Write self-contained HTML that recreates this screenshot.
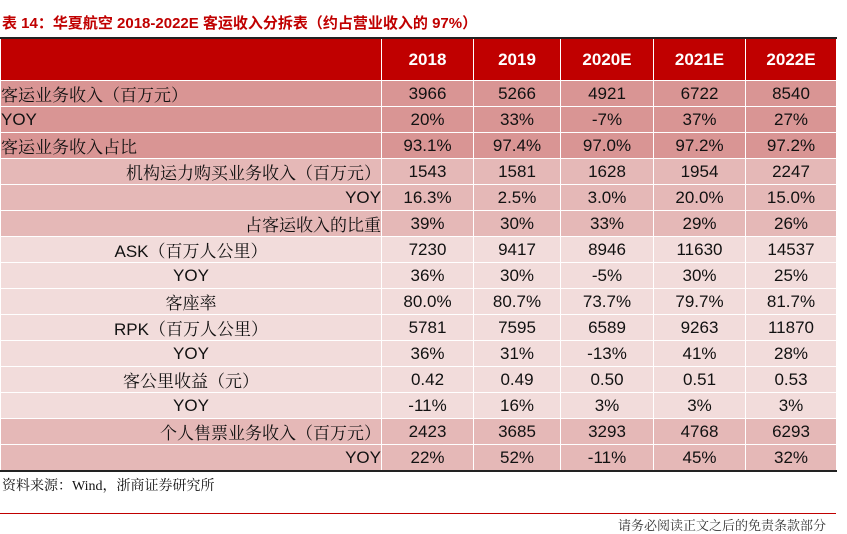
<!DOCTYPE html>
<html><head><meta charset="utf-8">
<style>
body{margin:0;width:847px;height:522px;background:#fff;position:relative;overflow:hidden;font-family:"Liberation Sans","Noto Sans CJK SC",sans-serif}
.title{position:absolute;left:2px;top:12px;font-size:15px;font-weight:bold;color:#C00000;font-family:"Liberation Sans","Noto Sans CJK SC",sans-serif;white-space:nowrap}
table{position:absolute;left:0;top:37px;border-collapse:collapse;table-layout:fixed;border-top:2px solid #222;border-bottom:2px solid #222}
td,th{border:1px solid #fff;height:25px;padding:0;font-size:17px;color:#111;text-align:center;white-space:nowrap;overflow:hidden}
th{background:#C00000;color:#fff;height:41px;font-size:17px}
.cn{font-family:"Liberation Sans","Noto Serif CJK SC",serif}
.l{text-align:left}.r{text-align:right}
.a td{background:#D99594}.b td{background:#E5B8B7}.c td{background:#F2DCDB}
.src{position:absolute;left:2px;top:475px;font-size:14px;font-family:"Liberation Serif","Noto Serif CJK SC",serif;color:#111}
.line{position:absolute;left:0;top:513px;width:836px;height:1px;background:#C00000}
.foot{position:absolute;left:618px;top:515px;font-size:13px;color:#333;font-family:"Liberation Serif","Noto Serif CJK SC",serif}
</style></head><body>
<div class="title">表 14：华夏航空 2018-2022E 客运收入分拆表（约占营业收入的 97%）</div>
<table>
<colgroup><col style="width:381px"><col style="width:92px"><col style="width:87px"><col style="width:93px"><col style="width:92px"><col style="width:91px"></colgroup>
<tr><th></th><th>2018</th><th>2019</th><th>2020E</th><th>2021E</th><th>2022E</th></tr>
<tr class="a"><td class="cn l">客运业务收入（百万元）</td><td>3966</td><td>5266</td><td>4921</td><td>6722</td><td>8540</td></tr>
<tr class="a"><td class="l">YOY</td><td>20%</td><td>33%</td><td>-7%</td><td>37%</td><td>27%</td></tr>
<tr class="a"><td class="cn l">客运业务收入占比</td><td>93.1%</td><td>97.4%</td><td>97.0%</td><td>97.2%</td><td>97.2%</td></tr>
<tr class="b"><td class="cn r">机构运力购买业务收入（百万元）</td><td>1543</td><td>1581</td><td>1628</td><td>1954</td><td>2247</td></tr>
<tr class="b"><td class="r">YOY</td><td>16.3%</td><td>2.5%</td><td>3.0%</td><td>20.0%</td><td>15.0%</td></tr>
<tr class="b"><td class="cn r">占客运收入的比重</td><td>39%</td><td>30%</td><td>33%</td><td>29%</td><td>26%</td></tr>
<tr class="c"><td class="cn">ASK（百万人公里）</td><td>7230</td><td>9417</td><td>8946</td><td>11630</td><td>14537</td></tr>
<tr class="c"><td>YOY</td><td>36%</td><td>30%</td><td>-5%</td><td>30%</td><td>25%</td></tr>
<tr class="c"><td class="cn">客座率</td><td>80.0%</td><td>80.7%</td><td>73.7%</td><td>79.7%</td><td>81.7%</td></tr>
<tr class="c"><td class="cn">RPK（百万人公里）</td><td>5781</td><td>7595</td><td>6589</td><td>9263</td><td>11870</td></tr>
<tr class="c"><td>YOY</td><td>36%</td><td>31%</td><td>-13%</td><td>41%</td><td>28%</td></tr>
<tr class="c"><td class="cn">客公里收益（元）</td><td>0.42</td><td>0.49</td><td>0.50</td><td>0.51</td><td>0.53</td></tr>
<tr class="c"><td>YOY</td><td>-11%</td><td>16%</td><td>3%</td><td>3%</td><td>3%</td></tr>
<tr class="b"><td class="cn r">个人售票业务收入（百万元）</td><td>2423</td><td>3685</td><td>3293</td><td>4768</td><td>6293</td></tr>
<tr class="b"><td class="r">YOY</td><td>22%</td><td>52%</td><td>-11%</td><td>45%</td><td>32%</td></tr>
</table>
<div class="src">资料来源：Wind，浙商证券研究所</div>
<div class="line"></div>
<div class="foot">请务必阅读正文之后的免责条款部分</div>
</body></html>
